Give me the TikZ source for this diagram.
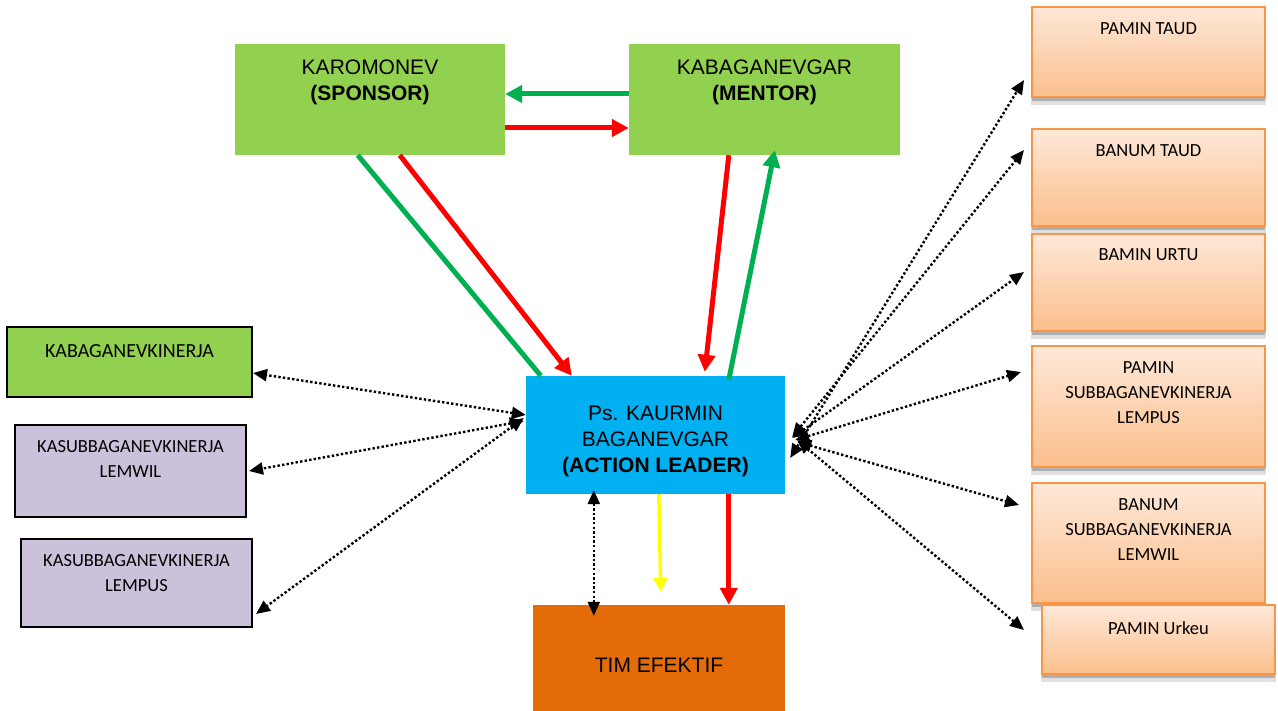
\documentclass[tikz,border=0pt]{standalone}
\usepackage{fontspec}
\setmainfont{Carlito}
\newfontfamily\arialf{Liberation Sans}
\usetikzlibrary{arrows.meta,calc,shadows}

\definecolor{boxgreen}{HTML}{92D050}
\definecolor{boxblue}{HTML}{00B0F0}
\definecolor{boxorange}{HTML}{E36C09}
\definecolor{boxlav}{HTML}{CCC1DA}
\definecolor{peachtop}{HTML}{FEE8D8}
\definecolor{peachbot}{HTML}{FBBF8C}
\definecolor{peachline}{HTML}{F79646}
\definecolor{arrgreen}{HTML}{00B050}
\definecolor{arrred}{HTML}{FF0000}
\definecolor{arryellow}{HTML}{FFFF00}

\begin{document}
\begin{tikzpicture}[x=1pt,y=-1pt,
  flatbox/.style={inner sep=0pt, draw=none},
  sidebox/.style={inner sep=0pt, draw=black, line width=2pt},
  peachbox/.style={inner sep=0pt, draw=peachline, line width=2pt,
    top color=peachtop, bottom color=peachbot,
    general shadow={shadow yshift=-7pt, shadow scale=1.012, fill=black, opacity=0.12},
    general shadow={shadow yshift=-4pt, fill=black, opacity=0.22}},
  bigtext/.style={font=\arialf\fontsize{21}{26}\selectfont, align=center, inner sep=0pt},
  smalltext/.style={font=\fontsize{18.5}{25}\selectfont, align=center, inner sep=0pt, anchor=north},
  fatarrow/.style={line width=5pt, -{Triangle[length=17pt,width=17pt]}},
  thinarrow/.style={line width=3.5pt, -{Triangle[length=14pt,width=14pt]}},
  dotlink/.style={line width=2.4pt, dash pattern=on 2.4pt off 2.2pt,
    {Triangle[length=14pt,width=12pt]}-{Triangle[length=14pt,width=12pt]}}
]
\useasboundingbox (0,0) rectangle (1278,711);

% top pair
\node[flatbox, fill=boxgreen, minimum width=270pt, minimum height=111pt] (spon) at (370,99.5) {};
\node[bigtext, anchor=north] (sponT) at ($(spon.north)+(0,15.5)$) {KAROMONEV\\\textbf{(SPONSOR)}};
\node[flatbox, fill=boxgreen, minimum width=271pt, minimum height=111pt] (ment) at (764.5,99.5) {};
\node[bigtext, anchor=north] (mentT) at ($(ment.north)+(0,15.5)$) {KABAGANEVGAR\\\textbf{(MENTOR)}};

% centre and bottom
\node[flatbox, fill=boxblue, minimum width=259pt, minimum height=118pt] (act) at (655.5,435) {};
\node[bigtext, anchor=north] (actT) at ($(act.north)+(0,30.5)$) {Ps. KAURMIN\\BAGANEVGAR\\\textbf{(ACTION LEADER)}};
\node[flatbox, fill=boxorange, minimum width=252pt, minimum height=106pt] (tim) at (659,658) {};
\node[bigtext] (timT) at (659,665) {TIM EFEKTIF};

% left column
\node[sidebox, fill=boxgreen, minimum width=245pt, minimum height=70pt] (kab) at (129.5,362) {};
\node[smalltext, font=\fontsize{20}{25}\selectfont] (kabT) at ($(kab.north)+(0,18.5)$) {KABAGANEVKINERJA};
\node[sidebox, fill=boxlav, minimum width=231pt, minimum height=92pt] (kl) at (130.5,471) {};
\node[smalltext] (klT) at ($(kl.north)+(0,16)$) {KASUBBAGANEVKINERJA\\LEMWIL};
\node[sidebox, fill=boxlav, minimum width=231pt, minimum height=88pt] (kp) at (136.5,583) {};
\node[smalltext] (kpT) at ($(kp.north)+(0,16)$) {KASUBBAGANEVKINERJA\\LEMPUS};

% right column
\node[peachbox, minimum width=233pt, minimum height=90pt] (r1) at (1148.5,52) {};
\node[smalltext] (r1T) at ($(r1.north)+(0,16)$) {PAMIN TAUD};
\node[peachbox, minimum width=233pt, minimum height=97pt] (r2) at (1148.5,177.5) {};
\node[smalltext] (r2T) at ($(r2.north)+(0,16)$) {BANUM TAUD};
\node[peachbox, minimum width=233pt, minimum height=97pt] (r3) at (1148.5,282.5) {};
\node[smalltext] (r3T) at ($(r3.north)+(0,15)$) {BAMIN URTU};
\node[peachbox, minimum width=233pt, minimum height=121pt] (r4) at (1148.5,406.5) {};
\node[smalltext] (r4T) at ($(r4.north)+(0,16)$) {PAMIN\\SUBBAGANEVKINERJA\\LEMPUS};
\node[peachbox, minimum width=233pt, minimum height=120pt] (r5) at (1148.5,543) {};
\node[smalltext] (r5T) at ($(r5.north)+(0,16)$) {BANUM\\SUBBAGANEVKINERJA\\LEMWIL};
\node[peachbox, minimum width=233pt, minimum height=69pt] (r6) at (1158.5,639.5) {};
\node[smalltext] (r6T) at ($(r6.north)+(0,17)$) {PAMIN Urkeu};

% sponsor <-> mentor
\draw[fatarrow, arrgreen] ($(ment.west)+(0,-5.5)$) -- ($(spon.east)+(0,-5.5)$);
\draw[fatarrow, arrred] ($(spon.east)+(0,28.5)$) -- ($(ment.west)+(0,28.5)$);

% sponsor / mentor <-> action leader
\draw[line width=5pt, arrgreen] ($(spon.south west)+(123,0)$) -- ($(act.north west)+(15,0)$);
\draw[fatarrow, arrred] ($(spon.south west)+(165,0)$) -- ($(act.north west)+(46,0)$);
\draw[fatarrow, arrred] ($(ment.south west)+(100,0)$) -- ($(act.north west)+(179,-4)$);
\draw[fatarrow, arrgreen] ($(act.north west)+(203,4)$) -- ($(ment.south west)+(146,-5)$);

% action leader -> team
\draw[thinarrow, arryellow] ($(act.south west)+(133,0)$) -- ($(tim.north west)+(128,-13)$);
\draw[fatarrow, arrred] ($(act.south west)+(203,0)$) -- ($(tim.north west)+(196,0)$);
\draw[dotlink] ($(act.south west)+(68,-4)$) -- ($(tim.north west)+(61,11)$);

% coordination links, left
\draw[dotlink] ($(act.west)+(0,-20)$) -- ($(kab.east)+(0,11)$);
\draw[dotlink] ($(act.west)+(-2,-14)$) -- ($(kl.east)+(2,0)$);
\draw[dotlink] ($(act.west)+(-2,-17)$) -- ($(kp.east)+(3,31)$);

% coordination links, right
\draw[dotlink] ($(act.east)+(5,23)$) -- ($(r1.west)+(-7,28)$);
\draw[dotlink] ($(act.east)+(7,2)$) -- ($(r2.west)+(-7,-27.5)$);
\draw[dotlink] ($(act.east)+(7,3)$) -- ($(r3.west)+(-7,-10.5)$);
\draw[dotlink] ($(act.east)+(10,5)$) -- ($(r4.west)+(-10,-34.5)$);
\draw[dotlink] ($(act.east)+(12,7)$) -- ($(r5.west)+(-12,-38)$);
\draw[dotlink] ($(act.east)+(12,5)$) -- ($(r6.west)+(-17,-9.5)$);
\end{tikzpicture}
\end{document}
